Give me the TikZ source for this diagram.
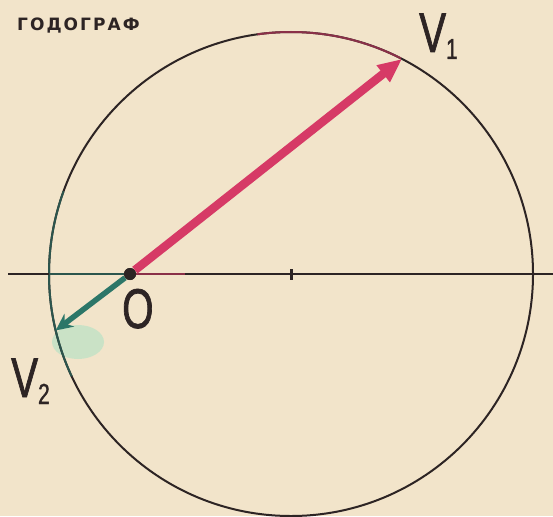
\documentclass[tikz,border=0pt]{standalone}
\usepackage{fontspec}
\setmainfont{Liberation Sans}
\newfontfamily\labelfont[FakeStretch=0.72, FakeBold=1.2]{Liberation Sans}
\newfontfamily\titlefont[LetterSpace=12]{DejaVu Sans}
\usepackage{xcolor}
\usepackage{tikz}
\usetikzlibrary{positioning,arrows.meta}

\definecolor{paper}{RGB}{242,228,202}
\definecolor{ink}{RGB}{45,36,36}
\definecolor{vred}{RGB}{214,58,102}
\definecolor{vteal}{RGB}{44,118,104}
\definecolor{mint}{RGB}{176,226,196}
\newcommand{\subidx}[1]{\raisebox{-7pt}{\fontsize{29}{29}\selectfont #1}}

\begin{document}
\begin{tikzpicture}[x=1pt, y=1pt,
    ring/.style   ={draw=ink, line width=2pt},
    axis/.style   ={draw=ink, line width=1.8pt},
    vecone/.style ={-{Triangle[length=24pt, width=20pt]}, vred, line width=8.5pt},
    vectwo/.style ={-{Stealth[length=17pt, width=16pt]}, vteal, line width=5.5pt},
    dot/.style    ={circle, fill=ink, minimum size=12pt, inner sep=0pt},
    tick/.style   ={fill=ink, minimum width=3pt, minimum height=11pt, inner sep=0pt},
    vlab/.style   ={font=\labelfont\fontsize{56}{56}\selectfont, text=ink,
                    anchor=base west, inner sep=0pt},
    title/.style  ={font=\titlefont\bfseries\fontsize{17}{17}\selectfont, text=ink,
                    anchor=base west, inner sep=0pt}
  ]
    % --- paper ---
    \fill[paper] (0,0) rectangle (553,-516);
    \useasboundingbox (0,0) rectangle (553,-516);
    \fill[mint, opacity=0.6] (78,-342) ellipse[x radius=26pt, y radius=17pt];

    % --- hodograph circle and axis ---
    \coordinate (C) at (291,-274);
    \coordinate (axl) at (8,-274);
    \coordinate (axr) at (553,-274);
    \coordinate (T1) at ([shift={(62.7:242pt)}]C);
    \coordinate (T2) at ([shift={(193.5:242pt)}]C);
    \draw[ring] (C) circle[radius=242pt];
    \draw[ring, vteal!60!ink] ([shift={(160:242pt)}]C) arc[start angle=160, end angle=205, radius=242pt];
    \draw[ring, vred!55!ink] ([shift={(63:242pt)}]C) arc[start angle=63, end angle=98, radius=242pt];
    \draw[axis] (axl) -- (axr);
    \node[dot]  (O)   at (130,-274) {};
    \node[tick] (mid) at (C) {};
    \draw[axis, vteal!60!ink] (49,-274) -- (O);
    \draw[axis, vred!55!ink] (O) -- (185,-274);

    % --- velocity vectors ---
    \draw[vecone] (O) -- (T1);
    \draw[vectwo] (O) -- (T2);
    \node[dot] at (O) {};

    % --- labels ---
    \node[title] (name) at (17,-31) {ГОДОГРАФ};
    \node[vlab]  (v1)   at (419,-52) {V\subidx{1}};
    \node[vlab]  (v2)   at (11,-397) {V\subidx{2}};
    \node[vlab]  (olab) at (122,-328) {O};
  \end{tikzpicture}
\end{document}
